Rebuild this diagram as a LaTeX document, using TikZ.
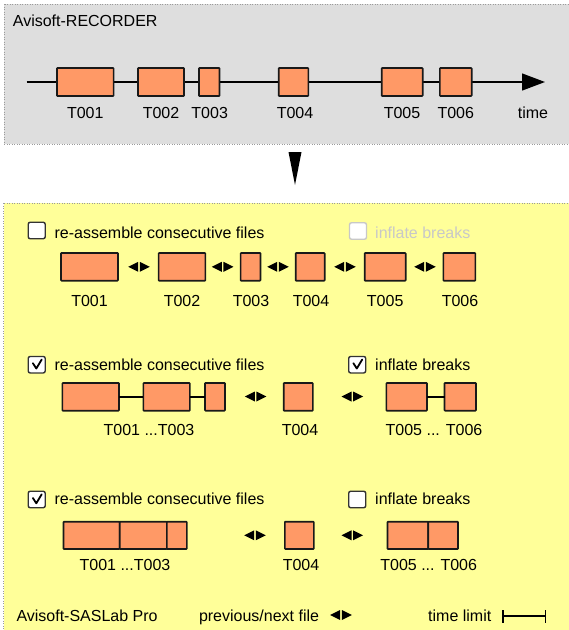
\documentclass[tikz,border=0pt]{standalone}
\usepackage{fontspec}
\setmainfont{Liberation Sans}
\usetikzlibrary{arrows.meta,calc}
\definecolor{boxor}{HTML}{FF9966}
\definecolor{recgray}{HTML}{DEDEDE}
\definecolor{labyel}{HTML}{FFFF99}
\definecolor{dotgray}{HTML}{9A9A9A}
\definecolor{offgray}{HTML}{C8C8C8}
\newcommand\filerect[5]{\node[filebox,minimum width={(#3-#2)*1pt},minimum height={(#5-#4)*1pt}] (#1) at ({(#2+#3)/2},{(#4+#5)/2}) {};}
\newcommand\lrarrow[3]{\coordinate (#1) at (#2,#3);
  \fill (#1) ++(-0.8,0) -- ++(0,-5) -- ++(-10,5) -- ++(10,5) -- cycle;
  \fill (#1) ++(0.8,0) -- ++(0,-5) -- ++(10,5) -- ++(-10,5) -- cycle;}
\newcommand\checkin[1]{\draw[checkmark] ($(#1.center)+(-3.8,-1.5)$) -- ($(#1.center)+(-0.4,3.8)$) -- ($(#1.center)+(5,-5.2)$);}
\begin{document}
\begin{tikzpicture}[x=1pt,y=-1pt,
  filebox/.style={draw=black!90,fill=boxor,line width=1.6pt,inner sep=0pt,outer sep=0pt,rounded corners=0.6pt},
  txt/.style={inner sep=0pt,anchor=base west,font=\fontsize{16}{19}\selectfont},
  lbl/.style={inner sep=0pt,anchor=base,font=\fontsize{16}{19}\selectfont},
  cbox/.style={draw=black!80,fill=white,line width=1.4pt,rounded corners=2pt,minimum width=17pt,minimum height=16.5pt,inner sep=0pt},
  cboxoff/.style={cbox,draw=offgray},
  checkmark/.style={line width=1.8pt,line join=round,line cap=round},
  conn/.style={line width=1.5pt},
  panel/.style={dash pattern=on 1pt off 1.5pt,draw=dotgray,line width=0.8pt}]
\useasboundingbox (0,0) rectangle (569,630);
% ---------- recorder panel
\draw[panel,fill=recgray] (4,4) rectangle (575,144);
\node[txt] (rectitle) at (12.7,26.5) {Avisoft-RECORDER};
\coordinate (ts) at (26.5,82);
\coordinate (te) at (545,82);
\draw[line width=1.3pt,-{Triangle[length=23pt,width=17pt]}] (ts) -- (te);
\filerect{r1}{57}{113.6}{68}{96}
\filerect{r2}{138}{184}{68}{96}
\filerect{r3}{199}{219.5}{68}{96}
\filerect{r4}{278.7}{308.4}{68}{96}
\filerect{r5}{381.7}{422.7}{68}{96}
\filerect{r6}{439.8}{471.7}{68}{96}
\node[lbl] (lr1) at (85.3,118) {T001};
\node[lbl] (lr2) at (161,118) {T002};
\node[lbl] (lr3) at (209.7,118) {T003};
\node[lbl] (lr4) at (295,118) {T004};
\node[lbl] (lr5) at (402,118) {T005};
\node[lbl] (lr6) at (455.8,118) {T006};
\node[lbl] (ltime) at (533,118) {time};
% ---------- down arrow
\fill (288.5,152) -- (301.5,152) -- (295,185) -- cycle;
% ---------- SASLab panel
\draw[panel,fill=labyel] (3.6,203) rectangle (575,640);
% section 1
\node[cbox] (ca1) at (36.7,230.5) {};
\node[txt] (ta1) at (54.4,238.3) {re-assemble consecutive files};
\node[cboxoff] (ca2) at (358,231) {};
\node[txt,text=offgray] (ta2) at (375,238.3) {inflate breaks};
\filerect{a1}{61}{118}{253}{280.7}
\filerect{a2}{158.6}{205.4}{253}{280.7}
\filerect{a3}{240.6}{260.5}{253}{280.7}
\filerect{a4}{295.7}{324.7}{253}{280.7}
\filerect{a5}{364.7}{405.7}{253}{280.7}
\filerect{a6}{443.4}{475.3}{253}{280.7}
\lrarrow{aa1}{139}{266.8}
\lrarrow{aa2}{222.6}{266.8}
\lrarrow{aa3}{278}{266.8}
\lrarrow{aa4}{345}{266.8}
\lrarrow{aa5}{425}{266.8}
\node[lbl] (la1) at (89.5,306) {T001};
\node[lbl] (la2) at (182,306) {T002};
\node[lbl] (la3) at (251,306) {T003};
\node[lbl] (la4) at (311,306) {T004};
\node[lbl] (la5) at (385.2,306) {T005};
\node[lbl] (la6) at (460,306) {T006};
% section 2
\node[cbox] (cb1) at (36.7,364.7) {};
\checkin{cb1}
\node[txt] (tb1) at (54.4,370) {re-assemble consecutive files};
\node[cbox] (cb2) at (357.2,364.7) {};
\checkin{cb2}
\node[txt] (tb2) at (375,370) {inflate breaks};
\filerect{b1}{62.4}{119}{383}{410.7}
\filerect{b2}{143.3}{189.8}{383}{410.7}
\filerect{b3}{205}{225}{383}{410.7}
\filerect{b4}{283.7}{312.8}{383}{410.7}
\filerect{b5}{386.4}{427}{383}{410.7}
\filerect{b6}{444.5}{476}{383}{410.7}
\draw[conn] (b1.east) -- (b2.west);
\draw[conn] (b2.east) -- (b3.west);
\draw[conn] (b5.east) -- (b6.west);
\lrarrow{ab1}{255.6}{396.5}
\lrarrow{ab2}{352.3}{396.5}
\node[lbl] (lb1) at (149,435) {T001 ...T003};
\node[lbl] (lb2) at (300,435) {T004};
\node[lbl] (lb3) at (434,435) {T005 ... T006};
% section 3
\node[cbox] (cc1) at (36.7,499.5) {};
\checkin{cc1}
\node[txt] (tc1) at (54.4,504.5) {re-assemble consecutive files};
\node[cbox] (cc2) at (357.2,499.5) {};
\node[txt] (tc2) at (375,504.5) {inflate breaks};
\filerect{c1}{63.5}{119.7}{521.7}{549}
\filerect{c2}{119.7}{166.9}{521.7}{549}
\filerect{c3}{166.9}{186.9}{521.7}{549}
\filerect{c4}{284.8}{313.9}{521.7}{549}
\filerect{c5}{387.5}{428.2}{521.7}{549}
\filerect{c6}{428.2}{458}{521.7}{549}
\lrarrow{ac1}{255}{535.3}
\lrarrow{ac2}{352.3}{535.3}
\node[lbl] (lc1) at (125,570.5) {T001 ...T003};
\node[lbl] (lc2) at (301,570.5) {T004};
\node[lbl] (lc3) at (428.7,570.5) {T005 ... T006};
% legend
\node[txt] (leg1) at (16.3,621.7) {Avisoft-SASLab Pro};
\node[txt] (leg2) at (198.8,621.7) {previous/next file};
\lrarrow{legarr}{341}{615}
\node[txt] (leg3) at (428,621.7) {time limit};
\coordinate (tl1) at (503,616);
\coordinate (tl2) at (545.5,616);
\draw[line width=1.8pt] (tl1) -- (tl2);
\draw[line width=1.8pt] ([yshift=-6.5pt]tl1) -- ([yshift=6.5pt]tl1);
\draw[line width=1.8pt] ([yshift=-6.5pt]tl2) -- ([yshift=6.5pt]tl2);
\end{tikzpicture}
\end{document}
